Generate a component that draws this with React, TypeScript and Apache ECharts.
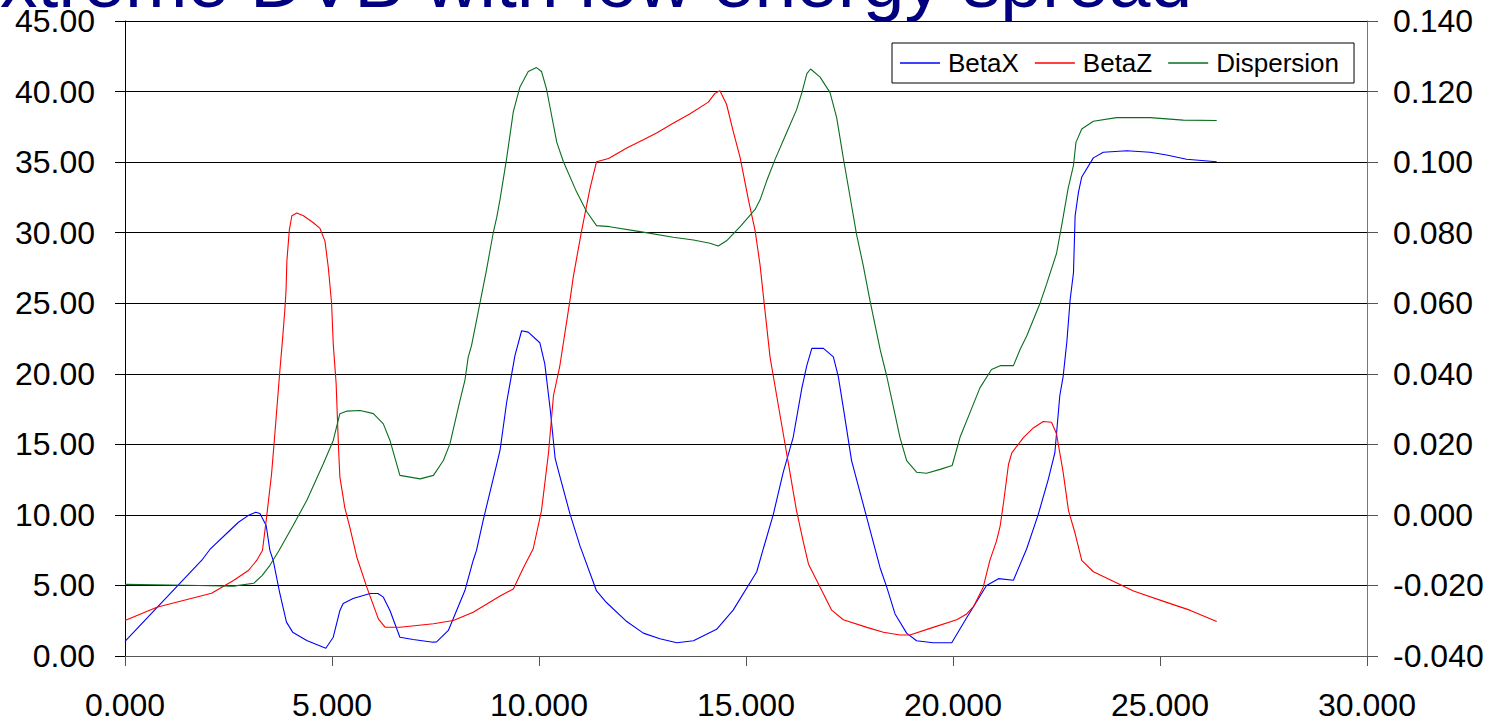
import React, { useEffect, useRef } from "react";
import * as echarts from "echarts";

const titleText = "Extreme DVB with low energy spread";
const legendNames = ["BetaX", "BetaZ", "Dispersion"];
const xTicks = { min: 0, max: 30, interval: 5 };
const leftTicks = { min: 0, max: 45, interval: 5 };
const rightTicks = { min: -0.04, max: 0.14, interval: 0.02 };

const betaXs = [0, 1.85, 2.05, 2.46, 2.74, 3.0, 3.16, 3.26, 3.41, 3.5, 3.58, 3.74, 3.9, 4.05, 4.39, 4.79, 4.85, 5.03, 5.19, 5.27, 5.51, 5.92, 6.11, 6.24, 6.4, 6.64, 6.96, 7.44, 7.52, 7.81, 8.01, 8.21, 8.41, 8.49, 8.65, 8.98, 9.06, 9.22, 9.42, 9.58, 9.74, 10.02, 10.14, 10.27, 10.39, 10.47, 10.75, 10.99, 11.39, 11.63, 12.12, 12.52, 12.92, 13.33, 13.73, 14.29, 14.69, 15.26, 15.42, 15.66, 15.9, 16.14, 16.35, 16.47, 16.59, 16.87, 17.11, 17.23, 17.35, 17.55, 17.92, 18.24, 18.4, 18.6, 18.88, 19.12, 19.52, 19.97, 20.33, 20.81, 21.1, 21.46, 21.78, 22.06, 22.3, 22.46, 22.58, 22.66, 22.75, 22.83, 22.91, 22.95, 23.03, 23.11, 23.39, 23.63, 24.2, 24.76, 25.16, 25.64, 26.37];
const betaXv = [1.03, 6.77, 7.55, 8.7, 9.48, 10.0, 10.19, 10.1, 9.25, 7.48, 6.77, 4.43, 2.4, 1.69, 1.1, 0.62, 0.55, 1.33, 3.22, 3.72, 4.07, 4.43, 4.43, 4.17, 3.22, 1.33, 1.17, 0.98, 0.99, 1.81, 3.22, 4.64, 6.77, 7.48, 9.6, 13.6, 14.6, 18.0, 21.3, 23.05, 22.95, 22.2, 20.7, 17.5, 14.0, 13.1, 10.05, 7.8, 4.61, 3.79, 2.44, 1.62, 1.22, 0.94, 1.08, 1.89, 3.25, 5.97, 7.62, 10.04, 13.03, 15.5, 19.0, 20.6, 21.8, 21.8, 21.2, 19.8, 17.6, 13.85, 9.77, 6.24, 4.88, 2.98, 1.62, 1.08, 0.94, 0.94, 2.71, 5.0, 5.48, 5.37, 7.6, 10.04, 12.5, 14.39, 18.46, 19.8, 22.27, 25.26, 27.16, 31.2, 32.86, 33.95, 35.3, 35.7, 35.8, 35.7, 35.5, 35.2, 35.03];

const betaZs = [0, 0.77, 2.09, 2.62, 2.98, 3.18, 3.32, 3.42, 3.54, 3.62, 3.74, 3.81, 3.86, 3.89, 3.91, 3.97, 4.03, 4.15, 4.31, 4.55, 4.71, 4.83, 4.91, 4.99, 5.03, 5.1, 5.13, 5.16, 5.19, 5.31, 5.43, 5.6, 5.84, 6.12, 6.28, 6.64, 7.45, 7.93, 8.41, 9.06, 9.38, 9.62, 9.86, 10.06, 10.23, 10.35, 10.5, 10.75, 10.83, 11.03, 11.23, 11.39, 11.68, 12.12, 12.52, 12.84, 13.24, 13.65, 14.09, 14.25, 14.37, 14.53, 14.69, 14.86, 15.06, 15.22, 15.34, 15.42, 15.58, 15.74, 15.9, 16.06, 16.22, 16.38, 16.51, 16.79, 17.07, 17.35, 17.92, 18.32, 18.72, 18.96, 19.52, 20.09, 20.33, 20.5, 20.73, 20.89, 21.05, 21.14, 21.22, 21.34, 21.42, 21.7, 21.94, 22.18, 22.38, 22.5, 22.66, 22.79, 22.95, 23.11, 23.39, 23.87, 24.36, 25.16, 25.72, 26.37];
const betaZv = [2.52, 3.46, 4.45, 5.35, 6.06, 6.77, 7.48, 9.84, 12.9, 15.75, 20.2, 22.6, 24.5, 25.9, 28.0, 30.2, 31.2, 31.4, 31.2, 30.7, 30.3, 29.4, 27.55, 25.0, 22.1, 19.3, 16.9, 14.6, 12.7, 10.5, 9.13, 7.0, 4.88, 2.63, 2.04, 2.04, 2.28, 2.52, 3.1, 4.25, 4.75, 6.24, 7.6, 10.3, 14.4, 18.46, 20.5, 25.26, 26.9, 30.15, 33.1, 35.03, 35.25, 36.0, 36.58, 37.07, 37.75, 38.43, 39.25, 39.87, 40.06, 39.1, 37.2, 35.3, 32.3, 30.15, 27.7, 25.5, 21.2, 18.46, 15.75, 13.03, 10.3, 8.14, 6.51, 4.88, 3.25, 2.57, 2.03, 1.68, 1.49, 1.49, 2.03, 2.57, 2.98, 3.52, 4.88, 6.78, 8.14, 9.23, 10.86, 13.57, 14.39, 15.48, 16.16, 16.62, 16.56, 15.75, 13.03, 10.3, 8.68, 6.78, 5.97, 5.29, 4.61, 3.8, 3.25, 2.44];

const dispS = [0, 1.8, 2.62, 3.11, 3.31, 3.5, 3.72, 4.06, 4.39, 4.79, 5.03, 5.19, 5.35, 5.68, 6.0, 6.24, 6.4, 6.64, 7.13, 7.45, 7.69, 7.85, 8.09, 8.21, 8.29, 8.37, 8.57, 8.73, 8.89, 8.98, 9.06, 9.22, 9.38, 9.54, 9.74, 9.94, 10.06, 10.18, 10.43, 10.59, 10.91, 11.15, 11.39, 11.71, 12.44, 13.24, 13.73, 14.13, 14.33, 14.53, 14.86, 15.22, 15.34, 15.5, 15.7, 15.98, 16.22, 16.35, 16.47, 16.56, 16.79, 17.03, 17.19, 17.35, 17.51, 17.67, 17.83, 17.99, 18.24, 18.4, 18.56, 18.72, 18.88, 19.12, 19.36, 19.69, 19.98, 20.17, 20.41, 20.65, 20.93, 21.14, 21.46, 21.62, 21.78, 22.1, 22.26, 22.5, 22.62, 22.78, 22.91, 22.97, 23.11, 23.39, 23.95, 24.76, 25.56, 26.37];
const dispV = [-0.0197, -0.02, -0.0202, -0.0194, -0.0172, -0.0143, -0.0101, -0.003, 0.0041, 0.0145, 0.0211, 0.0287, 0.0294, 0.0296, 0.0287, 0.0258, 0.0211, 0.0112, 0.0102, 0.0112, 0.0154, 0.0202, 0.0324, 0.0381, 0.0447, 0.048, 0.0598, 0.0693, 0.0797, 0.0844, 0.0895, 0.1012, 0.1143, 0.1213, 0.1257, 0.1268, 0.1257, 0.1208, 0.1056, 0.1001, 0.0915, 0.086, 0.082, 0.0817, 0.0803, 0.0787, 0.0779, 0.077, 0.0762, 0.0777, 0.0817, 0.0866, 0.0893, 0.0947, 0.1007, 0.1083, 0.1148, 0.1197, 0.1251, 0.1264, 0.1241, 0.1197, 0.1126, 0.1012, 0.0904, 0.0795, 0.0708, 0.061, 0.0469, 0.0393, 0.0306, 0.0219, 0.0154, 0.0121, 0.0118, 0.0129, 0.014, 0.022, 0.029, 0.036, 0.0412, 0.0423, 0.0423, 0.0469, 0.0507, 0.0599, 0.0654, 0.0741, 0.0817, 0.0925, 0.0991, 0.1056, 0.1094, 0.1116, 0.1126, 0.1126, 0.1119, 0.1118];

const zip = (xs: number[], ys: number[]) => xs.map((x, i) => [x, ys[i]]);

const FONT = "'Liberation Sans', Arial, sans-serif";

export default function App() {
  const ref = useRef<HTMLDivElement>(null);
  useEffect(() => {
    if (!ref.current) return;
    const chart = echarts.init(ref.current, undefined, { renderer: "svg" });
    chart.setOption({
      animation: false,
      backgroundColor: "#ffffff",
      textStyle: { fontFamily: FONT },
      graphic: [
        {
          type: "text",
          x: -50,
          y: -19,
          z: 100,
          style: {
            text: titleText,
            fontFamily: FONT,
            fontSize: 75,
            fontWeight: "normal",
            fill: "#000080",
            textAlign: "left",
            textVerticalAlign: "middle",
          },
        },
      ],
      legend: {
        data: legendNames,
        left: 892,
        top: 43,
        orient: "horizontal",
        padding: [7, 15, 7, 8],
        borderColor: "#000",
        borderWidth: 1,
        backgroundColor: "#fff",
        icon: "rect",
        itemWidth: 40,
        itemHeight: 1.3,
        itemGap: 16,
        textStyle: { fontSize: 26, color: "#000", fontFamily: FONT, padding: [0, 0, 0, 3] },
      },
      grid: { left: 125, right: 127, top: 21, bottom: 68, containLabel: false },
      xAxis: {
        type: "value",
        min: xTicks.min,
        max: xTicks.max,
        interval: xTicks.interval,
        axisLine: { show: true, lineStyle: { color: "#555", width: 1 } },
        axisTick: { show: true, inside: false, length: 10, lineStyle: { color: "#555" } },
        axisLabel: {
          fontSize: 32,
          color: "#000",
          fontFamily: FONT,
          margin: 33,
          formatter: (v: number) => v.toFixed(3),
        },
        splitLine: { show: false },
      },
      yAxis: [
        {
          type: "value",
          position: "left",
          min: leftTicks.min,
          max: leftTicks.max,
          interval: leftTicks.interval,
          axisLine: { show: true, lineStyle: { color: "#000", width: 1 } },
          axisTick: { show: true, inside: false, length: 10, lineStyle: { color: "#000" } },
          axisLabel: {
            fontSize: 32,
            color: "#000",
            fontFamily: FONT,
            margin: 30,
            formatter: (v: number) => v.toFixed(2),
          },
          splitLine: { show: true, lineStyle: { color: "#000", width: 1 } },
        },
        {
          type: "value",
          position: "right",
          min: rightTicks.min,
          max: rightTicks.max,
          interval: rightTicks.interval,
          axisLine: { show: true, lineStyle: { color: "#777", width: 1 } },
          axisTick: { show: true, inside: false, length: 11, lineStyle: { color: "#555" } },
          axisLabel: {
            fontSize: 32,
            color: "#000",
            fontFamily: FONT,
            margin: 26,
            formatter: (v: number) => v.toFixed(3),
          },
          splitLine: { show: false },
        },
      ],
      series: [
        {
          name: "BetaX",
          type: "line",
          symbol: "none",
          yAxisIndex: 0,
          lineStyle: { color: "#0000ff", width: 1.1 },
          itemStyle: { color: "#0000ff" },
          data: zip(betaXs, betaXv),
        },
        {
          name: "BetaZ",
          type: "line",
          symbol: "none",
          yAxisIndex: 0,
          lineStyle: { color: "#ff0000", width: 1.1 },
          itemStyle: { color: "#ff0000" },
          data: zip(betaZs, betaZv),
        },
        {
          name: "Dispersion",
          type: "line",
          symbol: "none",
          yAxisIndex: 1,
          lineStyle: { color: "#0a6e1e", width: 1.1 },
          itemStyle: { color: "#0a6e1e" },
          data: zip(dispS, dispV),
        },
      ],
    });
    return () => chart.dispose();
  }, []);
  return (
    <div
      ref={ref}
      style={{ position: "fixed", left: 0, top: 0, width: 1494, height: 724, background: "#fff" }}
    />
  );
}
